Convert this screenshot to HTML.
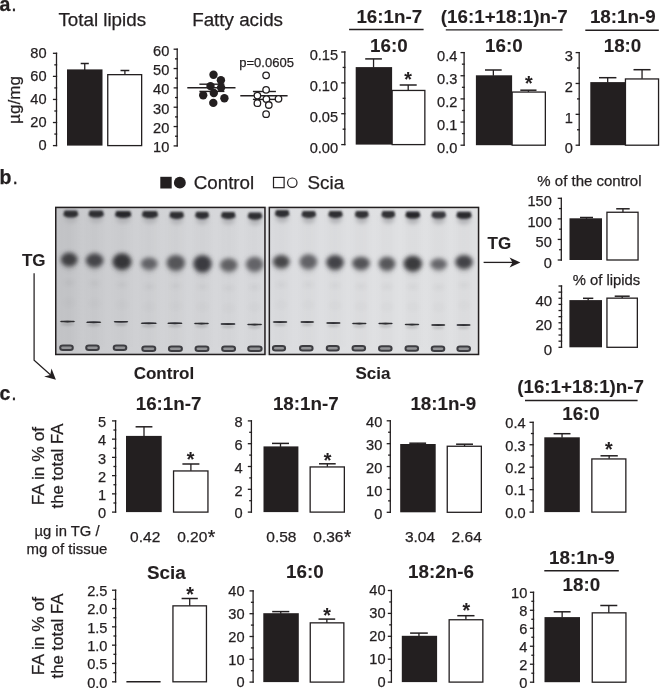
<!DOCTYPE html>
<html><head><meta charset="utf-8"><title>Figure</title>
<style>
html,body{margin:0;padding:0;background:#fff;}
body{width:660px;height:688px;overflow:hidden;}
svg{display:block;}
text{font-family:"Liberation Sans",Arial,Helvetica,sans-serif;fill:#231f20;stroke:#231f20;stroke-width:0.25px;}
text[font-weight="bold"]{stroke-width:0.1px;}
</style></head><body>
<svg width="660" height="688" viewBox="0 0 660 688">
<rect width="660" height="688" fill="#fff"/>
<g stroke="#231f20" fill="none" stroke-linecap="butt">
</g>
<text x="-0.5" y="11.2" font-size="19.5"><tspan font-weight="bold">a</tspan><tspan dx="1">.</tspan></text>
<text x="58.4" y="25.5" font-size="18.8">Total lipids</text>
<text x="192.2" y="25.5" font-size="18.8">Fatty acids</text>
<text transform="translate(20.2,100) rotate(-90)" font-size="17.1" text-anchor="middle">&#181;g/mg</text>
<g stroke="#231f20" stroke-width="1.3" fill="none">
<line stroke="#231f20" x1="56.5" y1="52.65" x2="56.5" y2="146.25"/>
<line stroke="#231f20" x1="52.9" y1="145.6" x2="57.15" y2="145.6"/>
<line stroke="#231f20" x1="54.3" y1="134.06" x2="57.15" y2="134.06"/>
<line stroke="#231f20" x1="52.9" y1="122.52" x2="57.15" y2="122.52"/>
<line stroke="#231f20" x1="54.3" y1="110.99" x2="57.15" y2="110.99"/>
<line stroke="#231f20" x1="52.9" y1="99.45" x2="57.15" y2="99.45"/>
<line stroke="#231f20" x1="54.3" y1="87.91" x2="57.15" y2="87.91"/>
<line stroke="#231f20" x1="52.9" y1="76.38" x2="57.15" y2="76.38"/>
<line stroke="#231f20" x1="54.3" y1="64.84" x2="57.15" y2="64.84"/>
<line stroke="#231f20" x1="52.9" y1="53.3" x2="57.15" y2="53.3"/>
</g>
<text x="46.6" y="149.8" font-size="14.6" text-anchor="end">0</text>
<text x="46.6" y="126.72" font-size="14.6" text-anchor="end">20</text>
<text x="46.6" y="103.65" font-size="14.6" text-anchor="end">40</text>
<text x="46.6" y="80.58" font-size="14.6" text-anchor="end">60</text>
<text x="46.6" y="57.5" font-size="14.6" text-anchor="end">80</text>
<rect x="67" y="69.4" width="35.5" height="76.2" fill="#231f20"/>
<g stroke="#231f20">
<line stroke="#231f20" x1="84.75" y1="69.9" x2="84.75" y2="63.5" stroke-width="1.3"/>
<line stroke="#231f20" x1="80.7" y1="63.5" x2="88.8" y2="63.5" stroke-width="1.5"/>
</g>
<rect x="107.75" y="74.65" width="33.9" height="70.95" fill="#fff" stroke="#231f20" stroke-width="1.3"/>
<g stroke="#231f20">
<line stroke="#231f20" x1="124.9" y1="74.5" x2="124.9" y2="70.5" stroke-width="1.3"/>
<line stroke="#231f20" x1="120.5" y1="70.5" x2="129.3" y2="70.5" stroke-width="1.5"/>
</g>
<g stroke="#231f20" stroke-width="1.3" fill="none">
<line stroke="#231f20" x1="177.2" y1="48.55" x2="177.2" y2="146.55"/>
<line stroke="#231f20" x1="173.6" y1="145.9" x2="177.85" y2="145.9"/>
<line stroke="#231f20" x1="175" y1="136.23" x2="177.85" y2="136.23"/>
<line stroke="#231f20" x1="173.6" y1="126.56" x2="177.85" y2="126.56"/>
<line stroke="#231f20" x1="175" y1="116.89" x2="177.85" y2="116.89"/>
<line stroke="#231f20" x1="173.6" y1="107.22" x2="177.85" y2="107.22"/>
<line stroke="#231f20" x1="175" y1="97.55" x2="177.85" y2="97.55"/>
<line stroke="#231f20" x1="173.6" y1="87.88" x2="177.85" y2="87.88"/>
<line stroke="#231f20" x1="175" y1="78.21" x2="177.85" y2="78.21"/>
<line stroke="#231f20" x1="173.6" y1="68.54" x2="177.85" y2="68.54"/>
<line stroke="#231f20" x1="175" y1="58.87" x2="177.85" y2="58.87"/>
<line stroke="#231f20" x1="173.6" y1="49.2" x2="177.85" y2="49.2"/>
</g>
<text x="169.3" y="152.3" font-size="14.6" text-anchor="end">10</text>
<text x="169.3" y="132.96" font-size="14.6" text-anchor="end">20</text>
<text x="169.3" y="113.62" font-size="14.6" text-anchor="end">30</text>
<text x="169.3" y="94.28" font-size="14.6" text-anchor="end">40</text>
<text x="169.3" y="74.94" font-size="14.6" text-anchor="end">50</text>
<text x="169.3" y="55.6" font-size="14.6" text-anchor="end">60</text>
<g stroke="#231f20" stroke-width="1.4">
<line stroke="#231f20" x1="187.3" y1="87.7" x2="235.5" y2="87.7" stroke-width="1.4"/>
<line stroke="#231f20" x1="199.4" y1="84.2" x2="224.4" y2="84.2" stroke-width="1.4"/>
<line stroke="#231f20" x1="199.4" y1="91.4" x2="224.4" y2="91.4" stroke-width="1.4"/>
</g>
<circle cx="213.5" cy="74.7" r="4.2" fill="#231f20"/>
<circle cx="220.9" cy="80.2" r="4.2" fill="#231f20"/>
<circle cx="210.5" cy="86.1" r="4.2" fill="#231f20"/>
<circle cx="221.1" cy="87.6" r="4.2" fill="#231f20"/>
<circle cx="203.2" cy="95.2" r="4.2" fill="#231f20"/>
<circle cx="213.8" cy="93" r="4.2" fill="#231f20"/>
<circle cx="224.4" cy="98.2" r="4.2" fill="#231f20"/>
<circle cx="213.3" cy="102.9" r="4.2" fill="#231f20"/>
<g stroke="#231f20" stroke-width="1.4">
<line stroke="#231f20" x1="240.3" y1="95.8" x2="287.6" y2="95.8" stroke-width="1.4"/>
<line stroke="#231f20" x1="252.9" y1="91.5" x2="275.9" y2="91.5" stroke-width="1.4"/>
<line stroke="#231f20" x1="252.9" y1="99.4" x2="275.9" y2="99.4" stroke-width="1.4"/>
</g>
<circle cx="266.1" cy="75.3" r="3.25" fill="#fff" stroke="#231f20" stroke-width="1.3"/>
<circle cx="266.1" cy="89.8" r="3.25" fill="#fff" stroke="#231f20" stroke-width="1.3"/>
<circle cx="257.4" cy="95.6" r="3.25" fill="#fff" stroke="#231f20" stroke-width="1.3"/>
<circle cx="266.4" cy="99.1" r="3.25" fill="#fff" stroke="#231f20" stroke-width="1.3"/>
<circle cx="278.5" cy="98.8" r="3.25" fill="#fff" stroke="#231f20" stroke-width="1.3"/>
<circle cx="257.4" cy="103.2" r="3.25" fill="#fff" stroke="#231f20" stroke-width="1.3"/>
<circle cx="268.8" cy="105" r="3.25" fill="#fff" stroke="#231f20" stroke-width="1.3"/>
<circle cx="266.1" cy="114.2" r="3.25" fill="#fff" stroke="#231f20" stroke-width="1.3"/>
<text x="239.3" y="67.1" font-size="13">p=0.0605</text>
<g stroke="#231f20" stroke-width="1.3" fill="none">
<line stroke="#231f20" x1="344.8" y1="51.35" x2="344.8" y2="145.25"/>
<line stroke="#231f20" x1="341.2" y1="144.6" x2="345.45" y2="144.6"/>
<line stroke="#231f20" x1="342.6" y1="129.17" x2="345.45" y2="129.17"/>
<line stroke="#231f20" x1="341.2" y1="113.73" x2="345.45" y2="113.73"/>
<line stroke="#231f20" x1="342.6" y1="98.3" x2="345.45" y2="98.3"/>
<line stroke="#231f20" x1="341.2" y1="82.87" x2="345.45" y2="82.87"/>
<line stroke="#231f20" x1="342.6" y1="67.43" x2="345.45" y2="67.43"/>
<line stroke="#231f20" x1="341.2" y1="52" x2="345.45" y2="52"/>
</g>
<text x="338.1" y="152.8" font-size="14.6" text-anchor="end">0.00</text>
<text x="338.1" y="121.93" font-size="14.6" text-anchor="end">0.05</text>
<text x="338.1" y="91.07" font-size="14.6" text-anchor="end">0.10</text>
<text x="338.1" y="60.2" font-size="14.6" text-anchor="end">0.15</text>
<rect x="355.7" y="67.1" width="36.4" height="77.5" fill="#231f20"/>
<g stroke="#231f20">
<line stroke="#231f20" x1="373.55" y1="67.6" x2="373.55" y2="58.9" stroke-width="1.3"/>
<line stroke="#231f20" x1="365.2" y1="58.9" x2="381.9" y2="58.9" stroke-width="1.5"/>
</g>
<rect x="392.15" y="90.45" width="32.7" height="54.15" fill="#fff" stroke="#231f20" stroke-width="1.3"/>
<g stroke="#231f20">
<line stroke="#231f20" x1="408.2" y1="90.3" x2="408.2" y2="85" stroke-width="1.3"/>
<line stroke="#231f20" x1="399.7" y1="85" x2="416.7" y2="85" stroke-width="1.5"/>
</g>
<text x="408" y="86.1" font-size="19.5" font-weight="bold" text-anchor="middle">*</text>
<text x="356.4" y="22.7" font-size="18.8" font-weight="bold">16:1n-7</text>
<line stroke="#231f20" x1="349.1" y1="29.5" x2="423.6" y2="29.5" stroke-width="1.4"/>
<text x="370" y="51.5" font-size="18.8" font-weight="bold">16:0</text>
<g stroke="#231f20" stroke-width="1.3" fill="none">
<line stroke="#231f20" x1="464.1" y1="51.95" x2="464.1" y2="145.85"/>
<line stroke="#231f20" x1="460.5" y1="145.2" x2="464.75" y2="145.2"/>
<line stroke="#231f20" x1="461.9" y1="133.62" x2="464.75" y2="133.62"/>
<line stroke="#231f20" x1="460.5" y1="122.05" x2="464.75" y2="122.05"/>
<line stroke="#231f20" x1="461.9" y1="110.47" x2="464.75" y2="110.47"/>
<line stroke="#231f20" x1="460.5" y1="98.9" x2="464.75" y2="98.9"/>
<line stroke="#231f20" x1="461.9" y1="87.32" x2="464.75" y2="87.32"/>
<line stroke="#231f20" x1="460.5" y1="75.75" x2="464.75" y2="75.75"/>
<line stroke="#231f20" x1="461.9" y1="64.17" x2="464.75" y2="64.17"/>
<line stroke="#231f20" x1="460.5" y1="52.6" x2="464.75" y2="52.6"/>
</g>
<text x="457.4" y="153.4" font-size="14.6" text-anchor="end">0.0</text>
<text x="457.4" y="130.25" font-size="14.6" text-anchor="end">0.1</text>
<text x="457.4" y="107.1" font-size="14.6" text-anchor="end">0.2</text>
<text x="457.4" y="83.95" font-size="14.6" text-anchor="end">0.3</text>
<text x="457.4" y="60.8" font-size="14.6" text-anchor="end">0.4</text>
<rect x="475.9" y="75.3" width="36.2" height="69.9" fill="#231f20"/>
<g stroke="#231f20">
<line stroke="#231f20" x1="493.35" y1="75.8" x2="493.35" y2="70" stroke-width="1.3"/>
<line stroke="#231f20" x1="485" y1="70" x2="501.7" y2="70" stroke-width="1.5"/>
</g>
<rect x="512.15" y="92.05" width="33.2" height="53.15" fill="#fff" stroke="#231f20" stroke-width="1.3"/>
<g stroke="#231f20">
<line stroke="#231f20" x1="528.4" y1="91.9" x2="528.4" y2="90.2" stroke-width="1.3"/>
<line stroke="#231f20" x1="520.3" y1="90.2" x2="536.5" y2="90.2" stroke-width="1.5"/>
</g>
<text x="528.9" y="90" font-size="19.5" font-weight="bold" text-anchor="middle">*</text>
<text x="440.8" y="22.7" font-size="18.8" font-weight="bold">(16:1+18:1)n-7</text>
<line stroke="#231f20" x1="445.8" y1="29.9" x2="562.5" y2="29.9" stroke-width="1.4"/>
<text x="485.1" y="51.5" font-size="18.8" font-weight="bold">16:0</text>
<g stroke="#231f20" stroke-width="1.3" fill="none">
<line stroke="#231f20" x1="579.2" y1="51.95" x2="579.2" y2="145.85"/>
<line stroke="#231f20" x1="575.6" y1="145.2" x2="579.85" y2="145.2"/>
<line stroke="#231f20" x1="577" y1="129.77" x2="579.85" y2="129.77"/>
<line stroke="#231f20" x1="575.6" y1="114.33" x2="579.85" y2="114.33"/>
<line stroke="#231f20" x1="577" y1="98.9" x2="579.85" y2="98.9"/>
<line stroke="#231f20" x1="575.6" y1="83.47" x2="579.85" y2="83.47"/>
<line stroke="#231f20" x1="577" y1="68.03" x2="579.85" y2="68.03"/>
<line stroke="#231f20" x1="575.6" y1="52.6" x2="579.85" y2="52.6"/>
</g>
<text x="572.9" y="153.4" font-size="14.6" text-anchor="end">0</text>
<text x="572.9" y="122.53" font-size="14.6" text-anchor="end">1</text>
<text x="572.9" y="91.67" font-size="14.6" text-anchor="end">2</text>
<text x="572.9" y="60.8" font-size="14.6" text-anchor="end">3</text>
<rect x="590.3" y="82.1" width="35.1" height="63.1" fill="#231f20"/>
<g stroke="#231f20">
<line stroke="#231f20" x1="607.7" y1="82.6" x2="607.7" y2="77.7" stroke-width="1.3"/>
<line stroke="#231f20" x1="599" y1="77.7" x2="616.4" y2="77.7" stroke-width="1.5"/>
</g>
<rect x="625.45" y="78.95" width="33.1" height="66.25" fill="#fff" stroke="#231f20" stroke-width="1.3"/>
<g stroke="#231f20">
<line stroke="#231f20" x1="642.05" y1="78.8" x2="642.05" y2="69.7" stroke-width="1.3"/>
<line stroke="#231f20" x1="633.5" y1="69.7" x2="650.6" y2="69.7" stroke-width="1.5"/>
</g>
<text x="589.9" y="22.7" font-size="18.8" font-weight="bold">18:1n-9</text>
<line stroke="#231f20" x1="585.3" y1="30.3" x2="658.8" y2="30.3" stroke-width="1.4"/>
<text x="603.7" y="51.5" font-size="18.8" font-weight="bold">18:0</text>
<text x="-0.5" y="183.5" font-size="19.5"><tspan font-weight="bold">b</tspan><tspan dx="1">.</tspan></text>
<rect x="160.3" y="176.8" width="11.4" height="11.7" fill="#231f20"/>
<circle cx="179.85" cy="182.65" r="5.95" fill="#231f20"/>
<text x="193.7" y="189.4" font-size="18.8">Control</text>
<rect x="273.5" y="177.4" width="10.6" height="10.3" fill="none" stroke="#231f20" stroke-width="1.2"/>
<circle cx="292.3" cy="182.7" r="4.7" fill="none" stroke="#231f20" stroke-width="1.2"/>
<text x="307.6" y="189.4" font-size="18.8">Scia</text>
<defs><clipPath id="cp1"><rect x="56" y="207.5" width="208.8" height="146.9"/></clipPath><clipPath id="cp2"><rect x="269.6" y="207.5" width="208.8" height="146.9"/></clipPath><linearGradient id="pg" gradientUnits="userSpaceOnUse" x1="55" y1="0" x2="479" y2="0"><stop offset="0" stop-color="#c2c3c6"/><stop offset="0.07" stop-color="#cacbce"/><stop offset="0.26" stop-color="#d2d3d6"/><stop offset="0.44" stop-color="#d8d9dc"/><stop offset="0.55" stop-color="#dcdde0"/><stop offset="0.8" stop-color="#e0e1e3"/><stop offset="1" stop-color="#dfe0e2"/></linearGradient><filter id="b1" x="-50%" y="-50%" width="200%" height="200%"><feGaussianBlur stdDeviation="0.9"/></filter><filter id="b15" x="-50%" y="-50%" width="200%" height="200%"><feGaussianBlur stdDeviation="1.9"/></filter><filter id="b06" x="-50%" y="-50%" width="200%" height="200%"><feGaussianBlur stdDeviation="0.7"/></filter><filter id="b04" x="-50%" y="-50%" width="200%" height="200%"><feGaussianBlur stdDeviation="0.45"/></filter><filter id="b2" x="-50%" y="-50%" width="200%" height="200%"><feGaussianBlur stdDeviation="2"/></filter><filter id="b3" x="-50%" y="-10%" width="200%" height="120%"><feGaussianBlur stdDeviation="3"/></filter></defs>
<rect x="265" y="206.8" width="4" height="148.4" fill="#e4e5e7"/>
<rect x="55" y="206.7" width="210.7" height="148.5" fill="url(#pg)"/>
<g clip-path="url(#cp1)">
<rect x="62.7" y="214.7" width="13" height="132.5" fill="#000" fill-opacity="0.02" filter="url(#b3)"/>
<rect x="88.1" y="214.7" width="13" height="132.5" fill="#000" fill-opacity="0.02" filter="url(#b3)"/>
<rect x="115.5" y="214.7" width="13" height="132.5" fill="#000" fill-opacity="0.02" filter="url(#b3)"/>
<rect x="142.7" y="214.7" width="13" height="132.5" fill="#000" fill-opacity="0.02" filter="url(#b3)"/>
<rect x="169.3" y="214.7" width="13" height="132.5" fill="#000" fill-opacity="0.02" filter="url(#b3)"/>
<rect x="196" y="214.7" width="13" height="132.5" fill="#000" fill-opacity="0.02" filter="url(#b3)"/>
<rect x="222.3" y="214.7" width="13" height="132.5" fill="#000" fill-opacity="0.02" filter="url(#b3)"/>
<rect x="248.1" y="214.7" width="13" height="132.5" fill="#000" fill-opacity="0.02" filter="url(#b3)"/>
<ellipse cx="69.2" cy="282.6" rx="5.5" ry="2.6" fill="#000" fill-opacity="0.04" filter="url(#b2)"/>
<ellipse cx="69.2" cy="302.6" rx="6" ry="4" fill="#000" fill-opacity="0.02" filter="url(#b2)"/>
<ellipse cx="94.6" cy="283.4" rx="5.5" ry="2.6" fill="#000" fill-opacity="0.04" filter="url(#b2)"/>
<ellipse cx="94.6" cy="303.4" rx="6" ry="4" fill="#000" fill-opacity="0.02" filter="url(#b2)"/>
<ellipse cx="122" cy="284.7" rx="5.5" ry="2.6" fill="#000" fill-opacity="0.04" filter="url(#b2)"/>
<ellipse cx="122" cy="304.7" rx="6" ry="4" fill="#000" fill-opacity="0.02" filter="url(#b2)"/>
<ellipse cx="149.2" cy="286.7" rx="5.5" ry="2.6" fill="#000" fill-opacity="0.04" filter="url(#b2)"/>
<ellipse cx="149.2" cy="306.7" rx="6" ry="4" fill="#000" fill-opacity="0.02" filter="url(#b2)"/>
<ellipse cx="175.8" cy="285.9" rx="5.5" ry="2.6" fill="#000" fill-opacity="0.04" filter="url(#b2)"/>
<ellipse cx="175.8" cy="305.9" rx="6" ry="4" fill="#000" fill-opacity="0.02" filter="url(#b2)"/>
<ellipse cx="202.5" cy="286.7" rx="5.5" ry="2.6" fill="#000" fill-opacity="0.04" filter="url(#b2)"/>
<ellipse cx="202.5" cy="306.7" rx="6" ry="4" fill="#000" fill-opacity="0.02" filter="url(#b2)"/>
<ellipse cx="228.8" cy="288" rx="5.5" ry="2.6" fill="#000" fill-opacity="0.04" filter="url(#b2)"/>
<ellipse cx="228.8" cy="308" rx="6" ry="4" fill="#000" fill-opacity="0.02" filter="url(#b2)"/>
<ellipse cx="254.6" cy="287.2" rx="5.5" ry="2.6" fill="#000" fill-opacity="0.04" filter="url(#b2)"/>
<ellipse cx="254.6" cy="307.2" rx="6" ry="4" fill="#000" fill-opacity="0.02" filter="url(#b2)"/>
<ellipse cx="70.8" cy="218.2" rx="6.5" ry="5" fill="#b3b4b7" filter="url(#b2)"/>
<g filter="url(#b1)" fill="#2e2e32"><ellipse cx="70.8" cy="214.5" rx="7.5" ry="3.1"/><rect x="63.9" y="210.5" width="13.8" height="3.8" rx="1.5"/></g>
<ellipse cx="96.2" cy="218.2" rx="6.75" ry="5" fill="#b3b4b7" filter="url(#b2)"/>
<g filter="url(#b1)" fill="#2e2e32"><ellipse cx="96.2" cy="214.5" rx="7.75" ry="3.1"/><rect x="89.07" y="210.5" width="14.26" height="3.8" rx="1.5"/></g>
<ellipse cx="123.2" cy="218.6" rx="7.25" ry="5" fill="#b3b4b7" filter="url(#b2)"/>
<g filter="url(#b1)" fill="#28282c"><ellipse cx="123.2" cy="214.9" rx="8.25" ry="3.1"/><rect x="115.61" y="210.9" width="15.18" height="3.8" rx="1.5"/></g>
<ellipse cx="150" cy="218.8" rx="7.2" ry="5" fill="#b3b4b7" filter="url(#b2)"/>
<g filter="url(#b1)" fill="#2e2e32"><ellipse cx="150" cy="215.1" rx="8.2" ry="3.1"/><rect x="142.46" y="211.1" width="15.09" height="3.8" rx="1.5"/></g>
<ellipse cx="176.7" cy="219.5" rx="6.35" ry="5" fill="#b3b4b7" filter="url(#b2)"/>
<g filter="url(#b1)" fill="#2e2e32"><ellipse cx="176.7" cy="215.8" rx="7.35" ry="3.1"/><rect x="169.94" y="211.8" width="13.52" height="3.8" rx="1.5"/></g>
<ellipse cx="202.1" cy="219.5" rx="6" ry="5" fill="#b3b4b7" filter="url(#b2)"/>
<g filter="url(#b1)" fill="#2e2e32"><ellipse cx="202.1" cy="215.8" rx="7" ry="3.1"/><rect x="195.66" y="211.8" width="12.88" height="3.8" rx="1.5"/></g>
<ellipse cx="228.3" cy="219.6" rx="6.35" ry="5" fill="#b3b4b7" filter="url(#b2)"/>
<g filter="url(#b1)" fill="#2e2e32"><ellipse cx="228.3" cy="215.9" rx="7.35" ry="3.1"/><rect x="221.54" y="211.9" width="13.52" height="3.8" rx="1.5"/></g>
<ellipse cx="255" cy="220.3" rx="6.3" ry="5" fill="#b3b4b7" filter="url(#b2)"/>
<g filter="url(#b1)" fill="#2e2e32"><ellipse cx="255" cy="216.6" rx="7.3" ry="3.1"/><rect x="248.28" y="212.6" width="13.43" height="3.8" rx="1.5"/></g>
<ellipse cx="69.2" cy="266.6" rx="6.35" ry="4.67" fill="#000" fill-opacity="0.06" filter="url(#b2)"/>
<ellipse cx="69.2" cy="259.6" rx="8.45" ry="7" fill="#3f3f43" filter="url(#b15)"/>
<ellipse cx="94.6" cy="267.5" rx="6.75" ry="4.73" fill="#000" fill-opacity="0.06" filter="url(#b2)"/>
<ellipse cx="94.6" cy="260.4" rx="8.85" ry="7.1" fill="#454549" filter="url(#b15)"/>
<ellipse cx="122" cy="270.05" rx="7.5" ry="5.57" fill="#000" fill-opacity="0.06" filter="url(#b2)"/>
<ellipse cx="122" cy="261.7" rx="9.6" ry="8.35" fill="#343438" filter="url(#b15)"/>
<ellipse cx="149.2" cy="269.95" rx="6.35" ry="4.17" fill="#000" fill-opacity="0.06" filter="url(#b2)"/>
<ellipse cx="149.2" cy="263.7" rx="8.45" ry="6.25" fill="#626266" filter="url(#b15)"/>
<ellipse cx="175.8" cy="270.8" rx="7.15" ry="5.27" fill="#000" fill-opacity="0.06" filter="url(#b2)"/>
<ellipse cx="175.8" cy="262.9" rx="9.25" ry="7.9" fill="#545458" filter="url(#b15)"/>
<ellipse cx="202.5" cy="272.45" rx="7.15" ry="5.83" fill="#000" fill-opacity="0.06" filter="url(#b2)"/>
<ellipse cx="202.5" cy="263.7" rx="9.25" ry="8.75" fill="#3b3b3f" filter="url(#b15)"/>
<ellipse cx="228.8" cy="271.7" rx="6.75" ry="4.47" fill="#000" fill-opacity="0.06" filter="url(#b2)"/>
<ellipse cx="228.8" cy="265" rx="8.85" ry="6.7" fill="#606064" filter="url(#b15)"/>
<ellipse cx="254.6" cy="271.7" rx="6.75" ry="5" fill="#000" fill-opacity="0.06" filter="url(#b2)"/>
<ellipse cx="254.6" cy="264.2" rx="8.85" ry="7.5" fill="#646468" filter="url(#b15)"/>
<ellipse cx="67.5" cy="324.1" rx="6.6" ry="1.6" fill="#000" fill-opacity="0.13" filter="url(#b1)"/>
<path d="M59.4 321.6 Q67.5 320 75.6 321.6 Q67.5 323.2 59.4 321.6 Z" fill="#2d2d31" filter="url(#b04)"/>
<rect x="60.37" y="320.7" width="14.26" height="1.6" rx="0.8" fill="#2d2d31" filter="url(#b04)"/>
<ellipse cx="93.7" cy="324.9" rx="6.65" ry="1.6" fill="#000" fill-opacity="0.13" filter="url(#b1)"/>
<path d="M85.55 322.4 Q93.7 320.8 101.85 322.4 Q93.7 324 85.55 322.4 Z" fill="#2d2d31" filter="url(#b04)"/>
<rect x="86.53" y="321.5" width="14.34" height="1.6" rx="0.8" fill="#2d2d31" filter="url(#b04)"/>
<ellipse cx="121" cy="324.3" rx="6.4" ry="1.6" fill="#000" fill-opacity="0.13" filter="url(#b1)"/>
<path d="M113.1 321.8 Q121 320.2 128.9 321.8 Q121 323.4 113.1 321.8 Z" fill="#2d2d31" filter="url(#b04)"/>
<rect x="114.05" y="320.9" width="13.9" height="1.6" rx="0.8" fill="#2d2d31" filter="url(#b04)"/>
<ellipse cx="148.8" cy="325.9" rx="7.2" ry="1.6" fill="#000" fill-opacity="0.13" filter="url(#b1)"/>
<path d="M140.1 323.4 Q148.8 321.8 157.5 323.4 Q148.8 325 140.1 323.4 Z" fill="#2d2d31" filter="url(#b04)"/>
<rect x="141.14" y="322.5" width="15.31" height="1.6" rx="0.8" fill="#2d2d31" filter="url(#b04)"/>
<ellipse cx="174.9" cy="325.9" rx="6.7" ry="1.6" fill="#000" fill-opacity="0.13" filter="url(#b1)"/>
<path d="M166.7 323.4 Q174.9 321.8 183.1 323.4 Q174.9 325 166.7 323.4 Z" fill="#2d2d31" filter="url(#b04)"/>
<rect x="167.68" y="322.5" width="14.43" height="1.6" rx="0.8" fill="#2d2d31" filter="url(#b04)"/>
<ellipse cx="201.5" cy="326.1" rx="6.65" ry="1.6" fill="#000" fill-opacity="0.13" filter="url(#b1)"/>
<path d="M193.35 323.6 Q201.5 322 209.65 323.6 Q201.5 325.2 193.35 323.6 Z" fill="#2d2d31" filter="url(#b04)"/>
<rect x="194.33" y="322.7" width="14.34" height="1.6" rx="0.8" fill="#2d2d31" filter="url(#b04)"/>
<ellipse cx="228" cy="326.6" rx="6.65" ry="1.6" fill="#000" fill-opacity="0.13" filter="url(#b1)"/>
<path d="M219.85 324.1 Q228 322.5 236.15 324.1 Q228 325.7 219.85 324.1 Z" fill="#2d2d31" filter="url(#b04)"/>
<rect x="220.83" y="323.2" width="14.34" height="1.6" rx="0.8" fill="#2d2d31" filter="url(#b04)"/>
<ellipse cx="254.6" cy="327.1" rx="6.65" ry="1.6" fill="#000" fill-opacity="0.13" filter="url(#b1)"/>
<path d="M246.45 324.6 Q254.6 323 262.75 324.6 Q254.6 326.2 246.45 324.6 Z" fill="#2d2d31" filter="url(#b04)"/>
<rect x="247.43" y="323.7" width="14.34" height="1.6" rx="0.8" fill="#2d2d31" filter="url(#b04)"/>
<rect x="60.2" y="345.6" width="12.6" height="4.4" rx="2.6" fill="#939497" stroke="#3e3e42" stroke-width="2" filter="url(#b06)"/>
<line stroke="#231f20" x1="62" y1="347.7" x2="71" y2="347.7" stroke="#c4c5c8" stroke-width="1" filter="url(#b04)"/>
<rect x="86.2" y="345.6" width="12.6" height="4.4" rx="2.6" fill="#939497" stroke="#3e3e42" stroke-width="2" filter="url(#b06)"/>
<line stroke="#231f20" x1="88" y1="347.7" x2="97" y2="347.7" stroke="#c4c5c8" stroke-width="1" filter="url(#b04)"/>
<rect x="113.7" y="345.6" width="12.6" height="4.4" rx="2.6" fill="#939497" stroke="#3e3e42" stroke-width="2" filter="url(#b06)"/>
<line stroke="#231f20" x1="115.5" y1="347.7" x2="124.5" y2="347.7" stroke="#c4c5c8" stroke-width="1" filter="url(#b04)"/>
<rect x="142.3" y="346.6" width="13" height="4.4" rx="2.6" fill="#939497" stroke="#3e3e42" stroke-width="2" filter="url(#b06)"/>
<line stroke="#231f20" x1="144.1" y1="348.7" x2="153.5" y2="348.7" stroke="#c4c5c8" stroke-width="1" filter="url(#b04)"/>
<rect x="168.9" y="346.6" width="13" height="4.4" rx="2.6" fill="#939497" stroke="#3e3e42" stroke-width="2" filter="url(#b06)"/>
<line stroke="#231f20" x1="170.7" y1="348.7" x2="180.1" y2="348.7" stroke="#c4c5c8" stroke-width="1" filter="url(#b04)"/>
<rect x="195.55" y="346.6" width="12.9" height="4.4" rx="2.6" fill="#939497" stroke="#3e3e42" stroke-width="2" filter="url(#b06)"/>
<line stroke="#231f20" x1="197.35" y1="348.7" x2="206.65" y2="348.7" stroke="#c4c5c8" stroke-width="1" filter="url(#b04)"/>
<rect x="222.15" y="346.6" width="12.9" height="4.4" rx="2.6" fill="#939497" stroke="#3e3e42" stroke-width="2" filter="url(#b06)"/>
<line stroke="#231f20" x1="223.95" y1="348.7" x2="233.25" y2="348.7" stroke="#c4c5c8" stroke-width="1" filter="url(#b04)"/>
<rect x="248.2" y="346.6" width="13.4" height="4.4" rx="2.6" fill="#939497" stroke="#3e3e42" stroke-width="2" filter="url(#b06)"/>
<line stroke="#231f20" x1="250" y1="348.7" x2="259.8" y2="348.7" stroke="#c4c5c8" stroke-width="1" filter="url(#b04)"/>
</g>
<rect x="55.75" y="207.45" width="209.2" height="147" fill="none" stroke="#231f20" stroke-width="1.5"/>
<rect x="268.6" y="206.7" width="210.7" height="148.5" fill="url(#pg)"/>
<g clip-path="url(#cp2)">
<rect x="274.8" y="214.7" width="13" height="132.5" fill="#000" fill-opacity="0.02" filter="url(#b3)"/>
<rect x="301.9" y="214.7" width="13" height="132.5" fill="#000" fill-opacity="0.02" filter="url(#b3)"/>
<rect x="328.5" y="214.7" width="13" height="132.5" fill="#000" fill-opacity="0.02" filter="url(#b3)"/>
<rect x="354.5" y="214.7" width="13" height="132.5" fill="#000" fill-opacity="0.02" filter="url(#b3)"/>
<rect x="380.5" y="214.7" width="13" height="132.5" fill="#000" fill-opacity="0.02" filter="url(#b3)"/>
<rect x="406.3" y="214.7" width="13" height="132.5" fill="#000" fill-opacity="0.02" filter="url(#b3)"/>
<rect x="432.2" y="214.7" width="13" height="132.5" fill="#000" fill-opacity="0.02" filter="url(#b3)"/>
<rect x="457.5" y="214.7" width="13" height="132.5" fill="#000" fill-opacity="0.02" filter="url(#b3)"/>
<ellipse cx="281.3" cy="284.7" rx="5.5" ry="2.6" fill="#000" fill-opacity="0.04" filter="url(#b2)"/>
<ellipse cx="281.3" cy="304.7" rx="6" ry="4" fill="#000" fill-opacity="0.02" filter="url(#b2)"/>
<ellipse cx="308.4" cy="284.7" rx="5.5" ry="2.6" fill="#000" fill-opacity="0.04" filter="url(#b2)"/>
<ellipse cx="308.4" cy="304.7" rx="6" ry="4" fill="#000" fill-opacity="0.02" filter="url(#b2)"/>
<ellipse cx="335" cy="285.5" rx="5.5" ry="2.6" fill="#000" fill-opacity="0.04" filter="url(#b2)"/>
<ellipse cx="335" cy="305.5" rx="6" ry="4" fill="#000" fill-opacity="0.02" filter="url(#b2)"/>
<ellipse cx="361" cy="286.3" rx="5.5" ry="2.6" fill="#000" fill-opacity="0.04" filter="url(#b2)"/>
<ellipse cx="361" cy="306.3" rx="6" ry="4" fill="#000" fill-opacity="0.02" filter="url(#b2)"/>
<ellipse cx="387" cy="286.7" rx="5.5" ry="2.6" fill="#000" fill-opacity="0.04" filter="url(#b2)"/>
<ellipse cx="387" cy="306.7" rx="6" ry="4" fill="#000" fill-opacity="0.02" filter="url(#b2)"/>
<ellipse cx="412.8" cy="286.7" rx="5.5" ry="2.6" fill="#000" fill-opacity="0.04" filter="url(#b2)"/>
<ellipse cx="412.8" cy="306.7" rx="6" ry="4" fill="#000" fill-opacity="0.02" filter="url(#b2)"/>
<ellipse cx="438.7" cy="287.2" rx="5.5" ry="2.6" fill="#000" fill-opacity="0.04" filter="url(#b2)"/>
<ellipse cx="438.7" cy="307.2" rx="6" ry="4" fill="#000" fill-opacity="0.02" filter="url(#b2)"/>
<ellipse cx="464" cy="285.1" rx="5.5" ry="2.6" fill="#000" fill-opacity="0.04" filter="url(#b2)"/>
<ellipse cx="464" cy="305.1" rx="6" ry="4" fill="#000" fill-opacity="0.02" filter="url(#b2)"/>
<ellipse cx="282.2" cy="217.8" rx="6.35" ry="5" fill="#b3b4b7" filter="url(#b2)"/>
<g filter="url(#b1)" fill="#2e2e32"><ellipse cx="282.2" cy="214.1" rx="7.35" ry="3.1"/><rect x="275.44" y="210.1" width="13.52" height="3.8" rx="1.5"/></g>
<ellipse cx="308.8" cy="218.6" rx="6.35" ry="5" fill="#b3b4b7" filter="url(#b2)"/>
<g filter="url(#b1)" fill="#303034"><ellipse cx="308.8" cy="214.9" rx="7.35" ry="3.1"/><rect x="302.04" y="210.9" width="13.52" height="3.8" rx="1.5"/></g>
<ellipse cx="335.5" cy="218.6" rx="6.3" ry="5" fill="#b3b4b7" filter="url(#b2)"/>
<g filter="url(#b1)" fill="#2e2e32"><ellipse cx="335.5" cy="214.9" rx="7.3" ry="3.1"/><rect x="328.78" y="210.9" width="13.43" height="3.8" rx="1.5"/></g>
<ellipse cx="361.8" cy="218.8" rx="6" ry="5" fill="#b3b4b7" filter="url(#b2)"/>
<g filter="url(#b1)" fill="#323236"><ellipse cx="361.8" cy="215.1" rx="7" ry="3.1"/><rect x="355.36" y="211.1" width="12.88" height="3.8" rx="1.5"/></g>
<ellipse cx="388.3" cy="218.8" rx="6" ry="5" fill="#b3b4b7" filter="url(#b2)"/>
<g filter="url(#b1)" fill="#303034"><ellipse cx="388.3" cy="215.1" rx="7" ry="3.1"/><rect x="381.86" y="211.1" width="12.88" height="3.8" rx="1.5"/></g>
<ellipse cx="412.8" cy="219.2" rx="6.5" ry="5" fill="#b3b4b7" filter="url(#b2)"/>
<g filter="url(#b1)" fill="#262629"><ellipse cx="412.8" cy="215.5" rx="7.5" ry="3.1"/><rect x="405.9" y="211.5" width="13.8" height="3.8" rx="1.5"/></g>
<ellipse cx="438.7" cy="219.2" rx="6.35" ry="5" fill="#b3b4b7" filter="url(#b2)"/>
<g filter="url(#b1)" fill="#38383c"><ellipse cx="438.7" cy="215.5" rx="7.35" ry="3.1"/><rect x="431.94" y="211.5" width="13.52" height="3.8" rx="1.5"/></g>
<ellipse cx="464" cy="219.4" rx="6.75" ry="5" fill="#b3b4b7" filter="url(#b2)"/>
<g filter="url(#b1)" fill="#2a2a2e"><ellipse cx="464" cy="215.7" rx="7.75" ry="3.1"/><rect x="456.87" y="211.7" width="14.26" height="3.8" rx="1.5"/></g>
<ellipse cx="281.3" cy="268.35" rx="6.35" ry="4.43" fill="#000" fill-opacity="0.06" filter="url(#b2)"/>
<ellipse cx="281.3" cy="261.7" rx="8.45" ry="6.65" fill="#46464a" filter="url(#b15)"/>
<ellipse cx="308.4" cy="269.2" rx="6.75" ry="5" fill="#000" fill-opacity="0.06" filter="url(#b2)"/>
<ellipse cx="308.4" cy="261.7" rx="8.85" ry="7.5" fill="#626266" filter="url(#b15)"/>
<ellipse cx="335" cy="270" rx="6.75" ry="5" fill="#000" fill-opacity="0.06" filter="url(#b2)"/>
<ellipse cx="335" cy="262.5" rx="8.85" ry="7.5" fill="#424246" filter="url(#b15)"/>
<ellipse cx="361" cy="269.95" rx="6.75" ry="4.43" fill="#000" fill-opacity="0.06" filter="url(#b2)"/>
<ellipse cx="361" cy="263.3" rx="8.85" ry="6.65" fill="#525256" filter="url(#b15)"/>
<ellipse cx="387" cy="270.75" rx="6.35" ry="4.7" fill="#000" fill-opacity="0.06" filter="url(#b2)"/>
<ellipse cx="387" cy="263.7" rx="8.45" ry="7.05" fill="#56565a" filter="url(#b15)"/>
<ellipse cx="412.8" cy="271.65" rx="7.15" ry="5.3" fill="#000" fill-opacity="0.06" filter="url(#b2)"/>
<ellipse cx="412.8" cy="263.7" rx="9.25" ry="7.95" fill="#3a3a3e" filter="url(#b15)"/>
<ellipse cx="438.7" cy="270.05" rx="6.35" ry="3.9" fill="#000" fill-opacity="0.06" filter="url(#b2)"/>
<ellipse cx="438.7" cy="264.2" rx="8.45" ry="5.85" fill="#66666a" filter="url(#b15)"/>
<ellipse cx="464" cy="269.2" rx="6.75" ry="4.73" fill="#000" fill-opacity="0.06" filter="url(#b2)"/>
<ellipse cx="464" cy="262.1" rx="8.85" ry="7.1" fill="#424246" filter="url(#b15)"/>
<ellipse cx="280.1" cy="324.6" rx="6.4" ry="1.6" fill="#000" fill-opacity="0.13" filter="url(#b1)"/>
<path d="M272.2 322.1 Q280.1 320.5 288 322.1 Q280.1 323.7 272.2 322.1 Z" fill="#2d2d31" filter="url(#b04)"/>
<rect x="273.15" y="321.2" width="13.9" height="1.6" rx="0.8" fill="#2d2d31" filter="url(#b04)"/>
<ellipse cx="307.2" cy="324.6" rx="6" ry="1.6" fill="#000" fill-opacity="0.13" filter="url(#b1)"/>
<path d="M299.7 322.1 Q307.2 320.5 314.7 322.1 Q307.2 323.7 299.7 322.1 Z" fill="#2d2d31" filter="url(#b04)"/>
<rect x="300.6" y="321.2" width="13.2" height="1.6" rx="0.8" fill="#2d2d31" filter="url(#b04)"/>
<ellipse cx="333.4" cy="325.6" rx="6.4" ry="1.6" fill="#000" fill-opacity="0.13" filter="url(#b1)"/>
<path d="M325.5 323.1 Q333.4 321.5 341.3 323.1 Q333.4 324.7 325.5 323.1 Z" fill="#2d2d31" filter="url(#b04)"/>
<rect x="326.45" y="322.2" width="13.9" height="1.6" rx="0.8" fill="#2d2d31" filter="url(#b04)"/>
<ellipse cx="359.3" cy="326.1" rx="6.45" ry="1.6" fill="#000" fill-opacity="0.13" filter="url(#b1)"/>
<path d="M351.35 323.6 Q359.3 322 367.25 323.6 Q359.3 325.2 351.35 323.6 Z" fill="#2d2d31" filter="url(#b04)"/>
<rect x="352.3" y="322.7" width="13.99" height="1.6" rx="0.8" fill="#2d2d31" filter="url(#b04)"/>
<ellipse cx="385.5" cy="326.1" rx="6.4" ry="1.6" fill="#000" fill-opacity="0.13" filter="url(#b1)"/>
<path d="M377.6 323.6 Q385.5 322 393.4 323.6 Q385.5 325.2 377.6 323.6 Z" fill="#2d2d31" filter="url(#b04)"/>
<rect x="378.55" y="322.7" width="13.9" height="1.6" rx="0.8" fill="#2d2d31" filter="url(#b04)"/>
<ellipse cx="412" cy="327.1" rx="6.5" ry="1.6" fill="#000" fill-opacity="0.13" filter="url(#b1)"/>
<path d="M404 324.6 Q412 323 420 324.6 Q412 326.2 404 324.6 Z" fill="#2d2d31" filter="url(#b04)"/>
<rect x="404.96" y="323.7" width="14.08" height="1.6" rx="0.8" fill="#2d2d31" filter="url(#b04)"/>
<ellipse cx="438.2" cy="327.6" rx="6.25" ry="1.6" fill="#000" fill-opacity="0.13" filter="url(#b1)"/>
<path d="M430.45 325.1 Q438.2 323.5 445.95 325.1 Q438.2 326.7 430.45 325.1 Z" fill="#2d2d31" filter="url(#b04)"/>
<rect x="431.38" y="324.2" width="13.64" height="1.6" rx="0.8" fill="#2d2d31" filter="url(#b04)"/>
<ellipse cx="463.6" cy="327.6" rx="6.25" ry="1.6" fill="#000" fill-opacity="0.13" filter="url(#b1)"/>
<path d="M455.85 325.1 Q463.6 323.5 471.35 325.1 Q463.6 326.7 455.85 325.1 Z" fill="#2d2d31" filter="url(#b04)"/>
<rect x="456.78" y="324.2" width="13.64" height="1.6" rx="0.8" fill="#2d2d31" filter="url(#b04)"/>
<rect x="272.9" y="346.1" width="12.2" height="4.4" rx="2.6" fill="#939497" stroke="#3e3e42" stroke-width="2" filter="url(#b06)"/>
<line stroke="#231f20" x1="274.7" y1="348.2" x2="283.3" y2="348.2" stroke="#c4c5c8" stroke-width="1" filter="url(#b04)"/>
<rect x="300" y="346.1" width="12.6" height="4.4" rx="2.6" fill="#939497" stroke="#3e3e42" stroke-width="2" filter="url(#b06)"/>
<line stroke="#231f20" x1="301.8" y1="348.2" x2="310.8" y2="348.2" stroke="#c4c5c8" stroke-width="1" filter="url(#b04)"/>
<rect x="326.75" y="346.1" width="12.1" height="4.4" rx="2.6" fill="#939497" stroke="#3e3e42" stroke-width="2" filter="url(#b06)"/>
<line stroke="#231f20" x1="328.55" y1="348.2" x2="337.05" y2="348.2" stroke="#c4c5c8" stroke-width="1" filter="url(#b04)"/>
<rect x="352.5" y="346.1" width="12.6" height="4.4" rx="2.6" fill="#939497" stroke="#3e3e42" stroke-width="2" filter="url(#b06)"/>
<line stroke="#231f20" x1="354.3" y1="348.2" x2="363.3" y2="348.2" stroke="#c4c5c8" stroke-width="1" filter="url(#b04)"/>
<rect x="379" y="346.3" width="12.6" height="4.4" rx="2.6" fill="#939497" stroke="#3e3e42" stroke-width="2" filter="url(#b06)"/>
<line stroke="#231f20" x1="380.8" y1="348.4" x2="389.8" y2="348.4" stroke="#c4c5c8" stroke-width="1" filter="url(#b04)"/>
<rect x="405.5" y="346.3" width="12.6" height="4.4" rx="2.6" fill="#939497" stroke="#3e3e42" stroke-width="2" filter="url(#b06)"/>
<line stroke="#231f20" x1="407.3" y1="348.4" x2="416.3" y2="348.4" stroke="#c4c5c8" stroke-width="1" filter="url(#b04)"/>
<rect x="431.7" y="346.6" width="12.6" height="4.4" rx="2.6" fill="#939497" stroke="#3e3e42" stroke-width="2" filter="url(#b06)"/>
<line stroke="#231f20" x1="433.5" y1="348.7" x2="442.5" y2="348.7" stroke="#c4c5c8" stroke-width="1" filter="url(#b04)"/>
<rect x="457.4" y="346.6" width="12.6" height="4.4" rx="2.6" fill="#939497" stroke="#3e3e42" stroke-width="2" filter="url(#b06)"/>
<line stroke="#231f20" x1="459.2" y1="348.7" x2="468.2" y2="348.7" stroke="#c4c5c8" stroke-width="1" filter="url(#b04)"/>
</g>
<rect x="269.35" y="207.45" width="209.2" height="147" fill="none" stroke="#231f20" stroke-width="1.5"/>
<text x="21.9" y="266.2" font-size="17" font-weight="bold">TG</text>
<path d="M34.1 273.2 V360.3 L51.5 375.8" fill="none" stroke="#231f20" stroke-width="1.25"/>
<path d="M55.9 379.7 L44.1 376.4 L50.2 374.9 L51.5 368.5 Z" fill="#231f20"/>
<text x="133.7" y="379" font-size="17" font-weight="bold">Control</text>
<text x="355.4" y="379" font-size="17" font-weight="bold">Scia</text>
<text x="487.5" y="248.7" font-size="17" font-weight="bold">TG</text>
<path d="M483.6 262.4 H514" fill="none" stroke="#231f20" stroke-width="1.3"/>
<path d="M520.4 262.4 L509.6 257.5 L512.5 262.4 L509.6 267.4 Z" fill="#231f20"/>
<g stroke="#231f20" stroke-width="1.3" fill="none">
<line stroke="#231f20" x1="561.3" y1="197.65" x2="561.3" y2="260.65"/>
<line stroke="#231f20" x1="557.7" y1="260" x2="561.95" y2="260"/>
<line stroke="#231f20" x1="559.1" y1="249.72" x2="561.95" y2="249.72"/>
<line stroke="#231f20" x1="557.7" y1="239.43" x2="561.95" y2="239.43"/>
<line stroke="#231f20" x1="559.1" y1="229.15" x2="561.95" y2="229.15"/>
<line stroke="#231f20" x1="557.7" y1="218.87" x2="561.95" y2="218.87"/>
<line stroke="#231f20" x1="559.1" y1="208.58" x2="561.95" y2="208.58"/>
<line stroke="#231f20" x1="557.7" y1="198.3" x2="561.95" y2="198.3"/>
</g>
<text x="551.8" y="267.8" font-size="14.6" text-anchor="end">0</text>
<text x="551.8" y="247.23" font-size="14.6" text-anchor="end">50</text>
<text x="551.8" y="226.67" font-size="14.6" text-anchor="end">100</text>
<text x="551.8" y="206.1" font-size="14.6" text-anchor="end">150</text>
<rect x="569.5" y="218.3" width="32.5" height="41.7" fill="#231f20"/>
<g stroke="#231f20">
<line stroke="#231f20" x1="586.5" y1="218.8" x2="586.5" y2="217.5" stroke-width="1.3"/>
<line stroke="#231f20" x1="580" y1="217.5" x2="593" y2="217.5" stroke-width="1.5"/>
</g>
<rect x="606.95" y="212.25" width="31.1" height="47.75" fill="#fff" stroke="#231f20" stroke-width="1.3"/>
<g stroke="#231f20">
<line stroke="#231f20" x1="622.95" y1="212.1" x2="622.95" y2="208.8" stroke-width="1.3"/>
<line stroke="#231f20" x1="616.2" y1="208.8" x2="629.7" y2="208.8" stroke-width="1.5"/>
</g>
<text x="537.3" y="185.8" font-size="15">% of the control</text>
<g stroke="#231f20" stroke-width="1.3" fill="none">
<line stroke="#231f20" x1="561.5" y1="285.35" x2="561.5" y2="347.95"/>
<line stroke="#231f20" x1="558.5" y1="347.3" x2="562.15" y2="347.3"/>
<line stroke="#231f20" x1="558.5" y1="341.17" x2="562.15" y2="341.17"/>
<line stroke="#231f20" x1="558.5" y1="335.04" x2="562.15" y2="335.04"/>
<line stroke="#231f20" x1="558.5" y1="328.91" x2="562.15" y2="328.91"/>
<line stroke="#231f20" x1="558.5" y1="322.78" x2="562.15" y2="322.78"/>
<line stroke="#231f20" x1="558.5" y1="316.65" x2="562.15" y2="316.65"/>
<line stroke="#231f20" x1="558.5" y1="310.52" x2="562.15" y2="310.52"/>
<line stroke="#231f20" x1="558.5" y1="304.39" x2="562.15" y2="304.39"/>
<line stroke="#231f20" x1="558.5" y1="298.26" x2="562.15" y2="298.26"/>
<line stroke="#231f20" x1="558.5" y1="292.13" x2="562.15" y2="292.13"/>
<line stroke="#231f20" x1="558.5" y1="286" x2="562.15" y2="286"/>
</g>
<text x="552.1" y="354.7" font-size="15" text-anchor="end">0</text>
<text x="552.1" y="330.18" font-size="15" text-anchor="end">20</text>
<text x="552.1" y="305.66" font-size="15" text-anchor="end">40</text>
<rect x="569.4" y="300.1" width="32.6" height="47.2" fill="#231f20"/>
<g stroke="#231f20">
<line stroke="#231f20" x1="588.15" y1="300.6" x2="588.15" y2="298.3" stroke-width="1.3"/>
<line stroke="#231f20" x1="583" y1="298.3" x2="593.3" y2="298.3" stroke-width="1.5"/>
</g>
<rect x="606.95" y="298.15" width="30.4" height="49.15" fill="#fff" stroke="#231f20" stroke-width="1.3"/>
<g stroke="#231f20">
<line stroke="#231f20" x1="622.2" y1="298" x2="622.2" y2="296.2" stroke-width="1.3"/>
<line stroke="#231f20" x1="614.7" y1="296.2" x2="629.7" y2="296.2" stroke-width="1.5"/>
</g>
<text x="572.7" y="285.3" font-size="14.8">% of lipids</text>
<text x="-0.5" y="399.6" font-size="19.5"><tspan font-weight="bold">c</tspan><tspan dx="1">.</tspan></text>
<text transform="translate(43.7,466) rotate(-90)" font-size="17.4" text-anchor="middle">FA in % of</text>
<text transform="translate(63,466) rotate(-90)" font-size="16.8" text-anchor="middle">the total FA</text>
<text transform="translate(43.9,636) rotate(-90)" font-size="17.4" text-anchor="middle">FA in % of</text>
<text transform="translate(63.2,636) rotate(-90)" font-size="16.8" text-anchor="middle">the total FA</text>
<text x="67" y="536.4" font-size="14.8" text-anchor="middle">&#181;g in TG /</text>
<text x="67" y="553.6" font-size="15" text-anchor="middle">mg of tissue</text>
<text x="130.1" y="541.9" font-size="15.5">0.42</text>
<text x="177.2" y="541.9" font-size="15.5">0.20<tspan font-size="19.5" dx="0.3" dy="2.2">*</tspan></text>
<text x="266.3" y="541.9" font-size="15.5">0.58</text>
<text x="313.3" y="541.9" font-size="15.5">0.36<tspan font-size="19.5" dx="0.3" dy="2.2">*</tspan></text>
<text x="404.9" y="542.3" font-size="15.5">3.04</text>
<text x="451.6" y="542.3" font-size="15.5">2.64</text>
<g stroke="#231f20" stroke-width="1.3" fill="none">
<line stroke="#231f20" x1="115.6" y1="420.25" x2="115.6" y2="512.75"/>
<line stroke="#231f20" x1="112" y1="512.1" x2="116.25" y2="512.1"/>
<line stroke="#231f20" x1="113.4" y1="502.98" x2="116.25" y2="502.98"/>
<line stroke="#231f20" x1="112" y1="493.86" x2="116.25" y2="493.86"/>
<line stroke="#231f20" x1="113.4" y1="484.74" x2="116.25" y2="484.74"/>
<line stroke="#231f20" x1="112" y1="475.62" x2="116.25" y2="475.62"/>
<line stroke="#231f20" x1="113.4" y1="466.5" x2="116.25" y2="466.5"/>
<line stroke="#231f20" x1="112" y1="457.38" x2="116.25" y2="457.38"/>
<line stroke="#231f20" x1="113.4" y1="448.26" x2="116.25" y2="448.26"/>
<line stroke="#231f20" x1="112" y1="439.14" x2="116.25" y2="439.14"/>
<line stroke="#231f20" x1="113.4" y1="430.02" x2="116.25" y2="430.02"/>
<line stroke="#231f20" x1="112" y1="420.9" x2="116.25" y2="420.9"/>
</g>
<text x="106.2" y="518.4" font-size="14.6" text-anchor="end">0</text>
<text x="106.2" y="500.16" font-size="14.6" text-anchor="end">1</text>
<text x="106.2" y="481.92" font-size="14.6" text-anchor="end">2</text>
<text x="106.2" y="463.68" font-size="14.6" text-anchor="end">3</text>
<text x="106.2" y="445.44" font-size="14.6" text-anchor="end">4</text>
<text x="106.2" y="427.2" font-size="14.6" text-anchor="end">5</text>
<rect x="126" y="435.9" width="35.7" height="76.2" fill="#231f20"/>
<g stroke="#231f20">
<line stroke="#231f20" x1="144" y1="436.4" x2="144" y2="426.8" stroke-width="1.3"/>
<line stroke="#231f20" x1="135.6" y1="426.8" x2="152.4" y2="426.8" stroke-width="1.5"/>
</g>
<rect x="173.55" y="470.95" width="34.4" height="41.15" fill="#fff" stroke="#231f20" stroke-width="1.3"/>
<g stroke="#231f20">
<line stroke="#231f20" x1="190.9" y1="470.8" x2="190.9" y2="464" stroke-width="1.3"/>
<line stroke="#231f20" x1="182.4" y1="464" x2="199.4" y2="464" stroke-width="1.5"/>
</g>
<text x="190.6" y="466.1" font-size="19.5" font-weight="bold" text-anchor="middle">*</text>
<text x="135.7" y="409.9" font-size="18.8" font-weight="bold">16:1n-7</text>
<g stroke="#231f20" stroke-width="1.3" fill="none">
<line stroke="#231f20" x1="251.4" y1="420.25" x2="251.4" y2="512.75"/>
<line stroke="#231f20" x1="247.8" y1="512.1" x2="252.05" y2="512.1"/>
<line stroke="#231f20" x1="249.2" y1="500.7" x2="252.05" y2="500.7"/>
<line stroke="#231f20" x1="247.8" y1="489.3" x2="252.05" y2="489.3"/>
<line stroke="#231f20" x1="249.2" y1="477.9" x2="252.05" y2="477.9"/>
<line stroke="#231f20" x1="247.8" y1="466.5" x2="252.05" y2="466.5"/>
<line stroke="#231f20" x1="249.2" y1="455.1" x2="252.05" y2="455.1"/>
<line stroke="#231f20" x1="247.8" y1="443.7" x2="252.05" y2="443.7"/>
<line stroke="#231f20" x1="249.2" y1="432.3" x2="252.05" y2="432.3"/>
<line stroke="#231f20" x1="247.8" y1="420.9" x2="252.05" y2="420.9"/>
</g>
<text x="242.6" y="518.4" font-size="14.6" text-anchor="end">0</text>
<text x="242.6" y="495.6" font-size="14.6" text-anchor="end">2</text>
<text x="242.6" y="472.8" font-size="14.6" text-anchor="end">4</text>
<text x="242.6" y="450" font-size="14.6" text-anchor="end">6</text>
<text x="242.6" y="427.2" font-size="14.6" text-anchor="end">8</text>
<rect x="263.5" y="446.4" width="34.9" height="65.7" fill="#231f20"/>
<g stroke="#231f20">
<line stroke="#231f20" x1="280.5" y1="446.9" x2="280.5" y2="443.4" stroke-width="1.3"/>
<line stroke="#231f20" x1="272" y1="443.4" x2="289" y2="443.4" stroke-width="1.5"/>
</g>
<rect x="310.15" y="466.95" width="34.2" height="45.15" fill="#fff" stroke="#231f20" stroke-width="1.3"/>
<g stroke="#231f20">
<line stroke="#231f20" x1="327.35" y1="466.8" x2="327.35" y2="463.8" stroke-width="1.3"/>
<line stroke="#231f20" x1="319" y1="463.8" x2="335.7" y2="463.8" stroke-width="1.5"/>
</g>
<text x="327.5" y="466.9" font-size="19.5" font-weight="bold" text-anchor="middle">*</text>
<text x="272.9" y="409.7" font-size="18.8" font-weight="bold">18:1n-7</text>
<g stroke="#231f20" stroke-width="1.3" fill="none">
<line stroke="#231f20" x1="390.3" y1="420.15" x2="390.3" y2="512.95"/>
<line stroke="#231f20" x1="386.7" y1="512.3" x2="390.95" y2="512.3"/>
<line stroke="#231f20" x1="388.1" y1="500.86" x2="390.95" y2="500.86"/>
<line stroke="#231f20" x1="386.7" y1="489.42" x2="390.95" y2="489.42"/>
<line stroke="#231f20" x1="388.1" y1="477.99" x2="390.95" y2="477.99"/>
<line stroke="#231f20" x1="386.7" y1="466.55" x2="390.95" y2="466.55"/>
<line stroke="#231f20" x1="388.1" y1="455.11" x2="390.95" y2="455.11"/>
<line stroke="#231f20" x1="386.7" y1="443.68" x2="390.95" y2="443.68"/>
<line stroke="#231f20" x1="388.1" y1="432.24" x2="390.95" y2="432.24"/>
<line stroke="#231f20" x1="386.7" y1="420.8" x2="390.95" y2="420.8"/>
</g>
<text x="382.3" y="518.6" font-size="14.6" text-anchor="end">0</text>
<text x="382.3" y="495.72" font-size="14.6" text-anchor="end">10</text>
<text x="382.3" y="472.85" font-size="14.6" text-anchor="end">20</text>
<text x="382.3" y="449.97" font-size="14.6" text-anchor="end">30</text>
<text x="382.3" y="427.1" font-size="14.6" text-anchor="end">40</text>
<rect x="400.2" y="444" width="35.5" height="68.3" fill="#231f20"/>
<g stroke="#231f20">
<line stroke="#231f20" x1="417.7" y1="444.5" x2="417.7" y2="443.2" stroke-width="1.3"/>
<line stroke="#231f20" x1="409.3" y1="443.2" x2="426.1" y2="443.2" stroke-width="1.5"/>
</g>
<rect x="447.25" y="446.25" width="34.1" height="66.05" fill="#fff" stroke="#231f20" stroke-width="1.3"/>
<g stroke="#231f20">
<line stroke="#231f20" x1="464.55" y1="446.1" x2="464.55" y2="444.2" stroke-width="1.3"/>
<line stroke="#231f20" x1="456.1" y1="444.2" x2="473" y2="444.2" stroke-width="1.5"/>
</g>
<text x="410.4" y="409.5" font-size="18.8" font-weight="bold">18:1n-9</text>
<g stroke="#231f20" stroke-width="1.3" fill="none">
<line stroke="#231f20" x1="533.1" y1="421.65" x2="533.1" y2="512.75"/>
<line stroke="#231f20" x1="529.5" y1="512.1" x2="533.75" y2="512.1"/>
<line stroke="#231f20" x1="530.9" y1="500.88" x2="533.75" y2="500.88"/>
<line stroke="#231f20" x1="529.5" y1="489.65" x2="533.75" y2="489.65"/>
<line stroke="#231f20" x1="530.9" y1="478.43" x2="533.75" y2="478.43"/>
<line stroke="#231f20" x1="529.5" y1="467.2" x2="533.75" y2="467.2"/>
<line stroke="#231f20" x1="530.9" y1="455.98" x2="533.75" y2="455.98"/>
<line stroke="#231f20" x1="529.5" y1="444.75" x2="533.75" y2="444.75"/>
<line stroke="#231f20" x1="530.9" y1="433.52" x2="533.75" y2="433.52"/>
<line stroke="#231f20" x1="529.5" y1="422.3" x2="533.75" y2="422.3"/>
</g>
<text x="525.6" y="517.9" font-size="14.6" text-anchor="end">0.0</text>
<text x="525.6" y="495.45" font-size="14.6" text-anchor="end">0.1</text>
<text x="525.6" y="473" font-size="14.6" text-anchor="end">0.2</text>
<text x="525.6" y="450.55" font-size="14.6" text-anchor="end">0.3</text>
<text x="525.6" y="428.1" font-size="14.6" text-anchor="end">0.4</text>
<rect x="544.3" y="437.3" width="35.5" height="74.8" fill="#231f20"/>
<g stroke="#231f20">
<line stroke="#231f20" x1="562.05" y1="437.8" x2="562.05" y2="433.7" stroke-width="1.3"/>
<line stroke="#231f20" x1="553.6" y1="433.7" x2="570.5" y2="433.7" stroke-width="1.5"/>
</g>
<rect x="591.85" y="458.95" width="34" height="53.15" fill="#fff" stroke="#231f20" stroke-width="1.3"/>
<g stroke="#231f20">
<line stroke="#231f20" x1="609.15" y1="458.8" x2="609.15" y2="455.8" stroke-width="1.3"/>
<line stroke="#231f20" x1="600.5" y1="455.8" x2="617.8" y2="455.8" stroke-width="1.5"/>
</g>
<text x="608.9" y="456.4" font-size="19.5" font-weight="bold" text-anchor="middle">*</text>
<text x="517.2" y="393.2" font-size="18.8" font-weight="bold">(16:1+18:1)n-7</text>
<line stroke="#231f20" x1="525" y1="400.5" x2="637.6" y2="400.5" stroke-width="1.4"/>
<text x="562.2" y="420.4" font-size="18.8" font-weight="bold">16:0</text>
<g stroke="#231f20" stroke-width="1.3" fill="none">
<line stroke="#231f20" x1="115.6" y1="589.55" x2="115.6" y2="682.45"/>
<line stroke="#231f20" x1="112" y1="681.8" x2="116.25" y2="681.8"/>
<line stroke="#231f20" x1="113.4" y1="672.64" x2="116.25" y2="672.64"/>
<line stroke="#231f20" x1="112" y1="663.48" x2="116.25" y2="663.48"/>
<line stroke="#231f20" x1="113.4" y1="654.32" x2="116.25" y2="654.32"/>
<line stroke="#231f20" x1="112" y1="645.16" x2="116.25" y2="645.16"/>
<line stroke="#231f20" x1="113.4" y1="636" x2="116.25" y2="636"/>
<line stroke="#231f20" x1="112" y1="626.84" x2="116.25" y2="626.84"/>
<line stroke="#231f20" x1="113.4" y1="617.68" x2="116.25" y2="617.68"/>
<line stroke="#231f20" x1="112" y1="608.52" x2="116.25" y2="608.52"/>
<line stroke="#231f20" x1="113.4" y1="599.36" x2="116.25" y2="599.36"/>
<line stroke="#231f20" x1="112" y1="590.2" x2="116.25" y2="590.2"/>
</g>
<text x="107.5" y="687.6" font-size="14.6" text-anchor="end">0.0</text>
<text x="107.5" y="669.28" font-size="14.6" text-anchor="end">0.5</text>
<text x="107.5" y="650.96" font-size="14.6" text-anchor="end">1.0</text>
<text x="107.5" y="632.64" font-size="14.6" text-anchor="end">1.5</text>
<text x="107.5" y="614.32" font-size="14.6" text-anchor="end">2.0</text>
<text x="107.5" y="596" font-size="14.6" text-anchor="end">2.5</text>
<line stroke="#231f20" x1="126.4" y1="681.8" x2="160.6" y2="681.8" stroke-width="1.4"/>
<rect x="172.95" y="605.85" width="33.5" height="75.95" fill="#fff" stroke="#231f20" stroke-width="1.3"/>
<g stroke="#231f20">
<line stroke="#231f20" x1="189.7" y1="605.7" x2="189.7" y2="598.5" stroke-width="1.3"/>
<line stroke="#231f20" x1="181.6" y1="598.5" x2="197.8" y2="598.5" stroke-width="1.5"/>
</g>
<text x="190" y="601" font-size="19.5" font-weight="bold" text-anchor="middle">*</text>
<text x="147.1" y="578.6" font-size="18.8" font-weight="bold">Scia</text>
<g stroke="#231f20" stroke-width="1.3" fill="none">
<line stroke="#231f20" x1="253.1" y1="590.25" x2="253.1" y2="682.75"/>
<line stroke="#231f20" x1="249.5" y1="682.1" x2="253.75" y2="682.1"/>
<line stroke="#231f20" x1="250.9" y1="670.7" x2="253.75" y2="670.7"/>
<line stroke="#231f20" x1="249.5" y1="659.3" x2="253.75" y2="659.3"/>
<line stroke="#231f20" x1="250.9" y1="647.9" x2="253.75" y2="647.9"/>
<line stroke="#231f20" x1="249.5" y1="636.5" x2="253.75" y2="636.5"/>
<line stroke="#231f20" x1="250.9" y1="625.1" x2="253.75" y2="625.1"/>
<line stroke="#231f20" x1="249.5" y1="613.7" x2="253.75" y2="613.7"/>
<line stroke="#231f20" x1="250.9" y1="602.3" x2="253.75" y2="602.3"/>
<line stroke="#231f20" x1="249.5" y1="590.9" x2="253.75" y2="590.9"/>
</g>
<text x="244.6" y="687.3" font-size="14.6" text-anchor="end">0</text>
<text x="244.6" y="664.5" font-size="14.6" text-anchor="end">10</text>
<text x="244.6" y="641.7" font-size="14.6" text-anchor="end">20</text>
<text x="244.6" y="618.9" font-size="14.6" text-anchor="end">30</text>
<text x="244.6" y="596.1" font-size="14.6" text-anchor="end">40</text>
<rect x="263.3" y="613.2" width="35.5" height="68.9" fill="#231f20"/>
<g stroke="#231f20">
<line stroke="#231f20" x1="280.75" y1="613.7" x2="280.75" y2="611.6" stroke-width="1.3"/>
<line stroke="#231f20" x1="272.2" y1="611.6" x2="289.3" y2="611.6" stroke-width="1.5"/>
</g>
<rect x="310.25" y="622.85" width="33.6" height="59.25" fill="#fff" stroke="#231f20" stroke-width="1.3"/>
<g stroke="#231f20">
<line stroke="#231f20" x1="326.85" y1="622.7" x2="326.85" y2="619.1" stroke-width="1.3"/>
<line stroke="#231f20" x1="318.5" y1="619.1" x2="335.2" y2="619.1" stroke-width="1.5"/>
</g>
<text x="327" y="621.6" font-size="19.5" font-weight="bold" text-anchor="middle">*</text>
<text x="286" y="577.7" font-size="18.8" font-weight="bold">16:0</text>
<g stroke="#231f20" stroke-width="1.3" fill="none">
<line stroke="#231f20" x1="391.4" y1="589.85" x2="391.4" y2="682.75"/>
<line stroke="#231f20" x1="387.8" y1="682.1" x2="392.05" y2="682.1"/>
<line stroke="#231f20" x1="389.2" y1="670.65" x2="392.05" y2="670.65"/>
<line stroke="#231f20" x1="387.8" y1="659.2" x2="392.05" y2="659.2"/>
<line stroke="#231f20" x1="389.2" y1="647.75" x2="392.05" y2="647.75"/>
<line stroke="#231f20" x1="387.8" y1="636.3" x2="392.05" y2="636.3"/>
<line stroke="#231f20" x1="389.2" y1="624.85" x2="392.05" y2="624.85"/>
<line stroke="#231f20" x1="387.8" y1="613.4" x2="392.05" y2="613.4"/>
<line stroke="#231f20" x1="389.2" y1="601.95" x2="392.05" y2="601.95"/>
<line stroke="#231f20" x1="387.8" y1="590.5" x2="392.05" y2="590.5"/>
</g>
<text x="385.5" y="686.8" font-size="14.6" text-anchor="end">0</text>
<text x="385.5" y="663.9" font-size="14.6" text-anchor="end">10</text>
<text x="385.5" y="641" font-size="14.6" text-anchor="end">20</text>
<text x="385.5" y="618.1" font-size="14.6" text-anchor="end">30</text>
<text x="385.5" y="595.2" font-size="14.6" text-anchor="end">40</text>
<rect x="401.8" y="635.8" width="35.3" height="46.3" fill="#231f20"/>
<g stroke="#231f20">
<line stroke="#231f20" x1="418.95" y1="636.3" x2="418.95" y2="633.1" stroke-width="1.3"/>
<line stroke="#231f20" x1="410.1" y1="633.1" x2="427.8" y2="633.1" stroke-width="1.5"/>
</g>
<rect x="449.15" y="619.75" width="33.7" height="62.35" fill="#fff" stroke="#231f20" stroke-width="1.3"/>
<g stroke="#231f20">
<line stroke="#231f20" x1="465.9" y1="619.6" x2="465.9" y2="615.7" stroke-width="1.3"/>
<line stroke="#231f20" x1="457.3" y1="615.7" x2="474.5" y2="615.7" stroke-width="1.5"/>
</g>
<text x="466.2" y="617.1" font-size="19.5" font-weight="bold" text-anchor="middle">*</text>
<text x="408.1" y="577.7" font-size="18.8" font-weight="bold">18:2n-6</text>
<g stroke="#231f20" stroke-width="1.3" fill="none">
<line stroke="#231f20" x1="533.5" y1="591.65" x2="533.5" y2="682.85"/>
<line stroke="#231f20" x1="529.9" y1="682.2" x2="534.15" y2="682.2"/>
<line stroke="#231f20" x1="531.3" y1="673.21" x2="534.15" y2="673.21"/>
<line stroke="#231f20" x1="529.9" y1="664.22" x2="534.15" y2="664.22"/>
<line stroke="#231f20" x1="531.3" y1="655.23" x2="534.15" y2="655.23"/>
<line stroke="#231f20" x1="529.9" y1="646.24" x2="534.15" y2="646.24"/>
<line stroke="#231f20" x1="531.3" y1="637.25" x2="534.15" y2="637.25"/>
<line stroke="#231f20" x1="529.9" y1="628.26" x2="534.15" y2="628.26"/>
<line stroke="#231f20" x1="531.3" y1="619.27" x2="534.15" y2="619.27"/>
<line stroke="#231f20" x1="529.9" y1="610.28" x2="534.15" y2="610.28"/>
<line stroke="#231f20" x1="531.3" y1="601.29" x2="534.15" y2="601.29"/>
<line stroke="#231f20" x1="529.9" y1="592.3" x2="534.15" y2="592.3"/>
</g>
<text x="527.3" y="687.7" font-size="14.6" text-anchor="end">0</text>
<text x="527.3" y="669.72" font-size="14.6" text-anchor="end">2</text>
<text x="527.3" y="651.74" font-size="14.6" text-anchor="end">4</text>
<text x="527.3" y="633.76" font-size="14.6" text-anchor="end">6</text>
<text x="527.3" y="615.78" font-size="14.6" text-anchor="end">8</text>
<text x="527.3" y="597.8" font-size="14.6" text-anchor="end">10</text>
<rect x="544.5" y="617.1" width="35.5" height="65.1" fill="#231f20"/>
<g stroke="#231f20">
<line stroke="#231f20" x1="562.15" y1="617.6" x2="562.15" y2="611.8" stroke-width="1.3"/>
<line stroke="#231f20" x1="553.7" y1="611.8" x2="570.6" y2="611.8" stroke-width="1.5"/>
</g>
<rect x="592.25" y="612.85" width="33.7" height="69.35" fill="#fff" stroke="#231f20" stroke-width="1.3"/>
<g stroke="#231f20">
<line stroke="#231f20" x1="608.8" y1="612.7" x2="608.8" y2="605.5" stroke-width="1.3"/>
<line stroke="#231f20" x1="600.3" y1="605.5" x2="617.3" y2="605.5" stroke-width="1.5"/>
</g>
<text x="549" y="563.8" font-size="18.8" font-weight="bold">18:1n-9</text>
<line stroke="#231f20" x1="544.3" y1="570.7" x2="618.8" y2="570.7" stroke-width="1.4"/>
<text x="562.6" y="590.9" font-size="18.8" font-weight="bold">18:0</text>
</svg>
</body></html>
